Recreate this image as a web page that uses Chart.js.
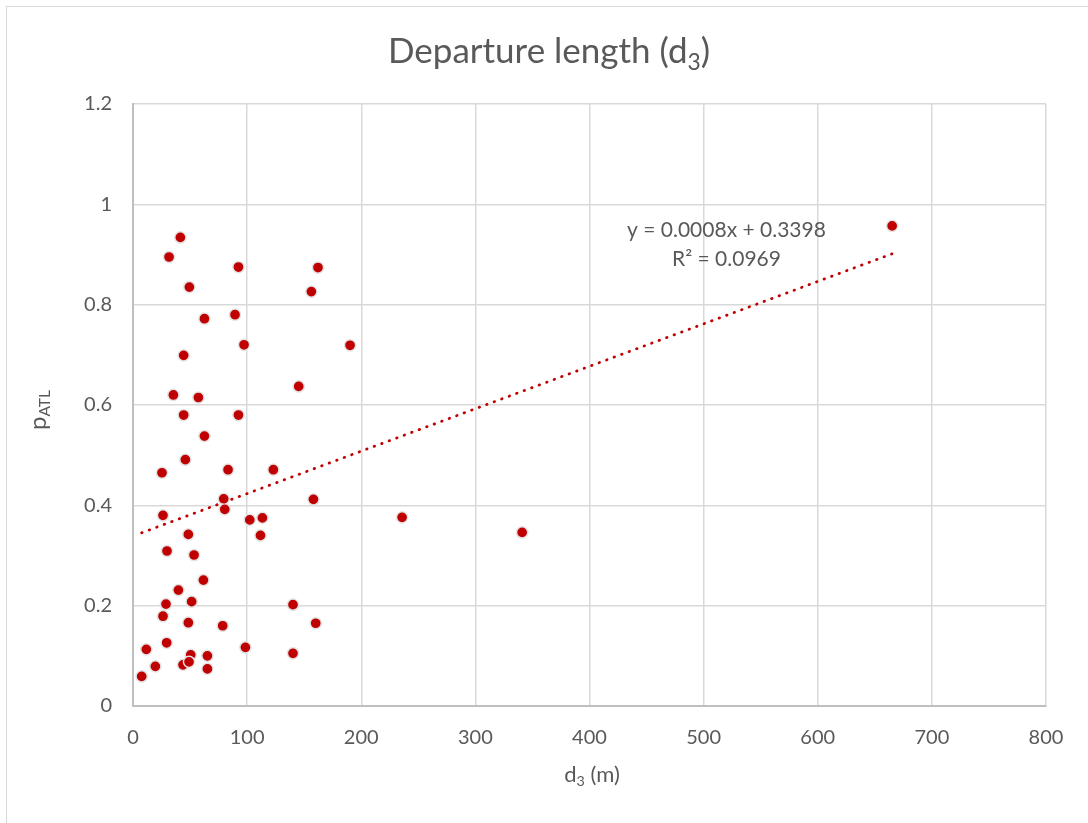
<!DOCTYPE html>
<html>
<head>
<meta charset="utf-8">
<title>Departure length (d3)</title>
<script src="https://cdn.jsdelivr.net/npm/chart.js@4.4.1/dist/chart.umd.min.js"></script>
<style>
  html, body { margin: 0; padding: 0; background: #fff; }
  #wrap { width: 1088px; height: 823px; }
</style>
</head>
<body>
<div id="wrap"><canvas id="scatter" width="1088" height="823"></canvas></div>
<script>
// departure length d3 (m) and observed pATL, one entry per site
const dLen = [
  7.6, 11.7, 19.6, 25.4, 26.3, 26.3, 28.9, 29.8, 29.5, 31.6,
  35.4, 39.8, 41.5, 43.8, 44.4, 44.4, 45.9, 48.5, 48.5, 49.4,
  50.6, 49.1, 51.4, 53.5, 57.3, 61.7, 62.6, 62.6, 65.2, 65.2,
  78.6, 79.5, 80.4, 83.3, 89.4, 92.4, 92.4, 97.3, 98.5, 102.3,
  111.7, 113.4, 123, 140.2, 140.2, 145.2, 156.3, 158.1, 160.1, 162.1,
  190.2, 235.8, 341, 665.2
];
const pAtl = [
  0.059, 0.113, 0.079, 0.465, 0.380, 0.179, 0.203, 0.309, 0.126, 0.895,
  0.620, 0.231, 0.934, 0.082, 0.699, 0.580, 0.491, 0.342, 0.166, 0.835,
  0.102, 0.088, 0.208, 0.301, 0.615, 0.251, 0.772, 0.538, 0.100, 0.074,
  0.160, 0.413, 0.392, 0.471, 0.780, 0.875, 0.580, 0.720, 0.117, 0.371,
  0.340, 0.375, 0.471, 0.105, 0.202, 0.637, 0.826, 0.412, 0.165, 0.874,
  0.719, 0.376, 0.346, 0.957
];
const trendLabels = ['y = 0.0008x + 0.3398', 'R\u00b2 = 0.0969'];
const xRange = [0, 800, 100];
const yRange = [0, 1.2, 0.2];

const FONT = 'Lato, "Open Sans", sans-serif';
const TEXT = '#595959';
const RED = '#c00000';

// least squares line through the points, drawn over the x span of the data
function linearFit(xs, ys) {
  const n = xs.length;
  let sx = 0, sy = 0, sxx = 0, sxy = 0;
  for (let i = 0; i < n; i++) {
    sx += xs[i]; sy += ys[i];
    sxx += xs[i] * xs[i]; sxy += xs[i] * ys[i];
  }
  const slope = (n * sxy - sx * sy) / (n * sxx - sx * sx);
  const icpt = (sy - slope * sx) / n;
  return { slope, icpt };
}
const fit = linearFit(dLen, pAtl);
const xLo = Math.min(...dLen), xHi = Math.max(...dLen);
const trendPts = [
  { x: xLo, y: fit.icpt + fit.slope * xLo },
  { x: xHi, y: fit.icpt + fit.slope * xHi }
];

// text made of runs, some of them lowered as subscripts
function drawRuns(ctx, runs, x, y, size) {
  ctx.save();
  ctx.fillStyle = TEXT;
  ctx.textBaseline = 'middle';
  ctx.textAlign = 'left';
  let total = 0;
  runs.forEach(r => {
    ctx.font = (r.sub ? size * 0.65 : size) + 'px ' + FONT;
    r.w = ctx.measureText(r.t).width;
    total += r.w;
  });
  let cx = x - total / 2;
  runs.forEach(r => {
    ctx.font = (r.sub ? size * 0.65 : size) + 'px ' + FONT;
    ctx.fillText(r.t, cx, r.sub ? y + size * 0.3 : y);
    cx += r.w;
  });
  ctx.restore();
}

const annotations = {
  id: 'annotations',
  afterDraw(chart) {
    const ctx = chart.ctx;
    const xs = chart.scales.x, ys = chart.scales.y;

    // outer frame of the chart area
    ctx.save();
    ctx.strokeStyle = '#d9d9d9';
    ctx.lineWidth = 1;
    ctx.strokeRect(6.5, 6.5, 1200, 1000);
    ctx.restore();

    drawRuns(ctx, [{ t: 'Departure length (d' }, { t: '3', sub: true }, { t: ')' }], 549, 52, 35);
    drawRuns(ctx, [{ t: 'd' }, { t: '3', sub: true }, { t: ' (m)' }], 592, 775, 22);

    ctx.save();
    ctx.translate(38, 410);
    ctx.rotate(-Math.PI / 2);
    drawRuns(ctx, [{ t: 'p' }, { t: 'ATL', sub: true }], 0, 0, 24);
    ctx.restore();

    ctx.save();
    ctx.fillStyle = TEXT;
    ctx.font = '21px ' + FONT;
    ctx.textAlign = 'center';
    ctx.textBaseline = 'middle';
    const lx = xs.getPixelForValue(520);
    ctx.fillText(trendLabels[0], lx, ys.getPixelForValue(0.949));
    ctx.fillText(trendLabels[1], lx, ys.getPixelForValue(0.891));
    ctx.restore();
  }
};

new Chart(document.getElementById('scatter'), {
  type: 'scatter',
  data: {
    datasets: [
      {
        label: 'pATL',
        data: dLen.map((d, i) => ({ x: d, y: pAtl[i] })),
        backgroundColor: RED,
        borderColor: '#e3e3e3',
        borderWidth: 1.5,
        pointRadius: 5.6,
        order: 2
      },
      {
        label: 'Linear',
        data: trendPts,
        showLine: true,
        borderColor: RED,
        borderWidth: 2.8,
        borderDash: [0.5, 7.5],
        borderCapStyle: 'round',
        pointRadius: 0,
        order: 1
      }
    ]
  },
  options: {
    responsive: false,
    animation: false,
    layout: { padding: { top: 104, right: 42, bottom: 0, left: 0 } },
    plugins: {
      legend: { display: false },
      tooltip: { enabled: false },
      title: { display: false }
    },
    scales: {
      x: {
        type: 'linear',
        min: xRange[0],
        max: xRange[1],
        afterFit: s => { s.height = 117; },
        ticks: {
          stepSize: xRange[2],
          color: TEXT,
          font: { family: FONT, size: 20 },
          padding: 20
        },
        grid: { color: '#d9d9d9', lineWidth: 1.5, drawTicks: false },
        border: { color: '#bfbfbf', width: 2 }
      },
      y: {
        min: yRange[0],
        max: yRange[1],
        afterFit: s => { s.width = 133; },
        ticks: {
          stepSize: yRange[2],
          color: TEXT,
          font: { family: FONT, size: 20 },
          padding: 21,
          callback: v => String(Number(v.toFixed(1)))
        },
        grid: { color: '#d9d9d9', lineWidth: 1.5, drawTicks: false },
        border: { color: '#bfbfbf', width: 2 }
      }
    }
  },
  plugins: [annotations]
});
</script>
</body>
</html>
